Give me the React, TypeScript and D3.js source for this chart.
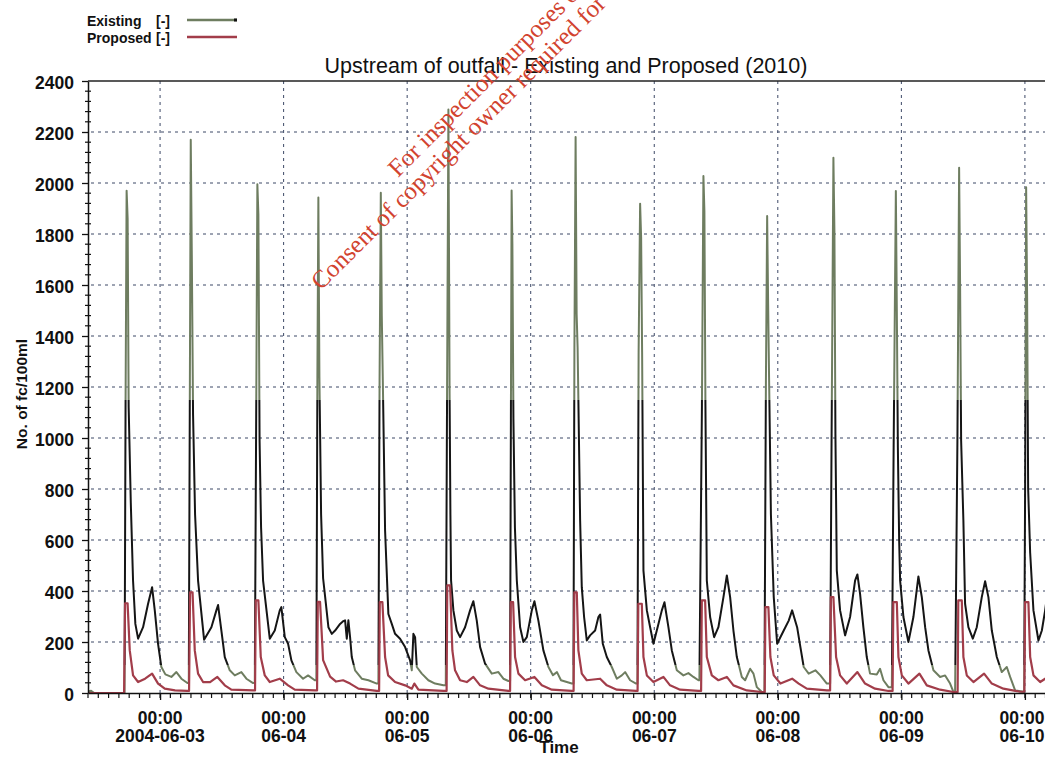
import React, { useEffect, useRef } from 'react';
import * as d3 from 'd3';

// [hours after 2004-06-03 00:00, no. of fc/100ml]
const existing: [number, number][] = [
  [-14.0, 6], [-13.4, 9], [-12.8, 0], [-6.9, 0], [-6.7, 1150], [-6.5, 1970], [-6.3, 1860], [-6.1, 1120], [-5.69, 748], [-5.25, 441], [-4.8, 271], [-4.27, 213], [-3.3, 258], [-2.33, 350], [-1.55, 415], [-1.03, 324], [-0.39, 193], [0.25, 102], [1.03, 73], [2.2, 63], [3.17, 82], [4.14, 56], [5.3, 39],
  [5.58, 40], [5.77, 1100], [5.96, 2170], [6.16, 1734], [6.41, 1090], [6.8, 700], [7.38, 441], [8.55, 209], [9.97, 258], [10.94, 324], [11.27, 345], [11.91, 245], [12.57, 141], [13.54, 89], [14.51, 69], [15.79, 82], [16.77, 56], [18.07, 39],
  [18.4, 40], [18.65, 1000], [18.9, 1995], [19.1, 1877], [19.33, 990], [19.62, 650], [20.01, 441], [21.31, 213], [22.28, 245], [23.25, 324], [23.56, 337], [24.23, 219], [24.87, 193], [25.51, 128], [26.48, 82], [27.78, 56], [28.75, 69], [30.05, 50],
  [30.36, 50], [30.56, 1240], [30.75, 1943], [30.95, 1240], [31.28, 700], [31.67, 450], [32.05, 380], [32.7, 258], [33.36, 232], [34.0, 245], [34.97, 271], [35.61, 282], [35.94, 285], [36.27, 213], [36.58, 285], [36.91, 219], [37.24, 141], [37.88, 89], [39.18, 56], [40.47, 50], [42.1, 37],
  [42.41, 37], [42.64, 1225], [42.88, 1962], [43.07, 1479], [43.27, 1225], [43.71, 637], [44.35, 310], [45.01, 271], [45.65, 232], [46.62, 213], [47.6, 180], [48.57, 128], [48.9, 89], [49.21, 232], [49.54, 219], [49.87, 102], [50.84, 76], [52.12, 50], [53.42, 37], [55.04, 30],
  [55.5, 30], [55.75, 1174], [56.01, 2288], [56.24, 1174], [56.4, 700], [56.53, 441], [56.98, 324], [57.64, 245], [58.28, 219], [59.25, 258], [60.22, 324], [60.86, 360], [61.52, 284], [62.17, 180], [63.14, 115], [64.44, 76], [65.72, 82], [66.69, 56], [67.67, 47],
  [67.99, 47], [68.15, 1075], [68.29, 1971], [68.44, 1761], [68.64, 1075], [68.93, 650], [69.3, 441], [69.94, 258], [70.58, 200], [71.24, 219], [72.21, 324], [72.72, 360], [73.49, 284], [74.46, 167], [75.44, 102], [76.32, 70], [77.1, 82], [77.88, 50], [79.98, 37],
  [80.3, 37], [80.49, 1355], [80.72, 2180], [80.92, 1486], [81.11, 1355], [81.6, 676], [81.92, 415], [82.37, 298], [82.89, 206], [83.53, 226], [84.51, 245], [85.15, 298], [85.48, 308], [86.0, 193], [86.78, 141], [87.75, 102], [88.72, 56], [89.69, 69], [90.34, 82], [91.31, 50], [92.47, 37],
  [92.73, 37], [92.96, 1336], [93.25, 1919], [93.45, 1786], [93.64, 1336], [93.9, 480], [94.56, 324], [95.2, 258], [95.84, 193], [96.81, 271], [97.47, 324], [97.98, 356], [98.75, 258], [99.41, 167], [100.38, 89], [101.66, 69], [102.63, 78], [103.61, 63], [104.58, 50],
  [104.77, 50], [105.26, 1127], [105.55, 2027], [105.74, 1890], [105.94, 1127], [106.21, 441], [106.85, 298], [107.63, 219], [108.46, 258], [109.44, 376], [110.1, 461], [110.74, 376], [111.38, 245], [112.04, 141], [113.01, 63], [113.65, 50], [114.62, 95], [115.27, 76], [115.93, 23], [116.9, 4],
  [117.4, 4], [117.69, 1225], [117.93, 1871], [118.12, 1525], [118.31, 1225], [118.66, 700], [119.21, 376], [119.87, 193], [120.18, 206], [121.15, 245], [122.12, 284], [122.78, 324], [123.75, 258], [124.39, 180], [125.03, 102], [126.0, 76], [127.3, 89], [128.27, 69], [129.52, 37],
  [130.16, 37], [130.45, 1017], [130.8, 2099], [131.0, 1805], [131.19, 1017], [131.46, 480], [132.1, 324], [133.07, 226], [134.04, 298], [135.01, 441], [135.46, 465], [135.98, 389], [136.62, 258], [137.28, 141], [137.92, 76], [139.22, 73], [139.86, 95], [140.52, 50], [141.49, 23],
  [142.15, 23], [142.5, 964], [142.93, 1969], [143.12, 1500], [143.32, 964], [143.57, 600], [143.76, 441], [144.4, 298], [145.37, 200], [146.34, 298], [147.31, 457], [147.97, 376], [148.62, 258], [149.26, 167], [150.23, 89], [151.53, 63], [152.5, 69], [153.47, 37], [154.11, 4],
  [154.44, 4], [154.89, 990], [155.22, 2060], [155.41, 1600], [155.61, 990], [156.05, 676], [156.38, 350], [157.02, 258], [157.88, 213], [158.65, 258], [159.62, 376], [160.27, 438], [160.91, 376], [161.57, 245], [162.54, 141], [163.51, 82], [164.48, 102], [165.13, 63], [166.1, 10], [167.71, 5],
  [167.85, 5], [168.04, 801], [168.24, 1983], [168.43, 1551], [168.63, 801], [169.02, 550], [169.66, 324], [170.63, 206], [171.29, 245], [171.93, 324], [172.3, 380],
];

const proposed: [number, number][] = [
  [-14.0, 0], [-6.99, 0], [-6.8, 352], [-6.31, 352], [-5.89, 167], [-5.25, 69], [-4.27, 43], [-2.91, 56], [-1.55, 76], [-0.39, 37], [0.91, 17], [2.91, 10], [5.25, 8],
  [5.63, 8], [5.83, 395], [6.31, 395], [6.74, 167], [7.38, 76], [8.35, 43], [9.71, 43], [11.13, 63], [12.57, 30], [13.85, 13], [18.07, 10],
  [18.45, 10], [18.59, 363], [19.1, 363], [19.56, 141], [20.34, 69], [21.31, 43], [23.25, 56], [24.87, 30], [26.17, 13], [30.11, 10],
  [30.5, 10], [30.64, 357], [31.08, 357], [31.67, 129], [33.03, 64], [34.19, 45], [35.55, 50], [36.91, 37], [38.53, 17], [42.1, 8],
  [42.55, 8], [42.68, 356], [43.19, 356], [43.71, 141], [44.3, 69], [45.65, 43], [47.6, 30], [48.9, 17], [49.4, 37], [50.18, 13], [55.04, 8],
  [55.66, 8], [55.79, 422], [56.34, 422], [56.78, 167], [57.3, 89], [58.28, 50], [59.58, 43], [60.86, 63], [62.17, 30], [63.78, 17], [67.67, 8],
  [67.99, 8], [68.13, 356], [68.58, 356], [68.96, 141], [69.61, 76], [70.91, 50], [72.72, 63], [74.16, 30], [76.1, 13], [79.98, 8],
  [80.33, 8], [80.47, 395], [80.95, 395], [81.26, 167], [81.92, 76], [82.89, 50], [85.48, 56], [86.78, 30], [88.72, 13], [92.47, 8],
  [92.76, 8], [92.9, 350], [93.58, 350], [93.9, 141], [94.56, 69], [95.84, 43], [97.78, 63], [99.07, 30], [101.02, 13], [104.58, 8],
  [105.1, 8], [105.24, 363], [105.88, 363], [106.21, 141], [107.18, 69], [108.46, 50], [110.1, 63], [111.38, 30], [113.98, 10], [116.9, 4],
  [117.46, 4], [117.59, 337], [118.17, 337], [118.56, 141], [119.21, 69], [120.51, 37], [122.78, 56], [124.06, 37], [125.63, 17], [129.52, 10],
  [130.16, 10], [130.3, 376], [130.8, 376], [131.32, 141], [132.1, 69], [133.4, 37], [135.46, 82], [136.95, 37], [138.89, 17], [141.49, 8],
  [142.3, 8], [142.44, 356], [143.12, 356], [143.43, 141], [144.09, 69], [145.37, 37], [147.51, 76], [148.94, 30], [151.53, 13], [154.11, 4],
  [154.93, 4], [155.06, 363], [155.74, 363], [156.05, 141], [156.71, 69], [158.0, 43], [160.07, 76], [161.57, 37], [163.82, 17], [167.06, 5],
  [167.9, 5], [168.04, 356], [168.68, 356], [169.02, 141], [169.66, 69], [170.96, 43], [171.93, 56], [172.3, 60],
];

const yTicks = [0, 200, 400, 600, 800, 1000, 1200, 1400, 1600, 1800, 2000, 2200, 2400];
const dayHours = [0, 24, 48, 72, 96, 120, 144, 168];
const dayLabels = ['2004-06-03', '06-04', '06-05', '06-06', '06-07', '06-08', '06-09', '06-10'];
const legendNames = ['Existing', 'Proposed'];
const stampLines = ['For inspection purposes only.', 'Consent of copyright owner required for any other use.'];

const W = 1045;
const H = 757;
const green = '#6e7d60';
const red = '#a23d4a';
const narrow = "'Liberation Sans Narrow', 'Arial Narrow', sans-serif";
const sans = "'Liberation Sans', Arial, sans-serif";

export default function App() {
  const ref = useRef<SVGSVGElement>(null);

  useEffect(() => {
    const svg = d3.select(ref.current);
    svg.selectAll('*').remove();

    const left = 88, right = 1045.5, top = 81, bottom = 693;
    const t0 = new Date(2004, 5, 3, 0, 0).getTime();
    const toDate = (h: number) => new Date(t0 + h * 3600e3);

    const x = d3.scaleTime().domain([toDate(-14), toDate(172)]).range([left, right]);
    const y = d3.scaleLinear().domain([0, 2400]).range([bottom, top]);

    const defs = svg.append('defs');
    defs.append('clipPath').attr('id', 'plot')
      .append('rect').attr('x', left).attr('y', top - 2).attr('width', right - left).attr('height', bottom - top + 2);

    // Existing line switches green / black with value
    const grad = defs.append('linearGradient').attr('id', 'exgrad')
      .attr('gradientUnits', 'userSpaceOnUse')
      .attr('x1', 0).attr('x2', 0).attr('y1', y(0)).attr('y2', y(2400));
    const lo = 110 / 2400, hi = 1150 / 2400;
    [[0, green], [lo, green], [lo, '#151515'], [hi, '#151515'], [hi, green], [1, green]].forEach(([o, c]) => {
      grad.append('stop').attr('offset', o as number).attr('stop-color', c as string);
    });

    // grid
    const grid = svg.append('g').attr('stroke', '#3c4866').attr('stroke-dasharray', '3,4').attr('stroke-width', 1);
    yTicks.filter(v => v > 0 && v < 2400).forEach(v => {
      grid.append('line').attr('x1', left + 3).attr('x2', right).attr('y1', y(v)).attr('y2', y(v));
    });
    dayHours.forEach(h => {
      grid.append('line').attr('x1', x(toDate(h))).attr('x2', x(toDate(h))).attr('y1', top).attr('y2', bottom);
    });

    // lines
    const line = d3.line<[number, number]>()
      .x(d => x(toDate(d[0])))
      .y(d => y(d[1]));

    const plot = svg.append('g').attr('clip-path', 'url(#plot)');
    plot.append('path').datum(existing)
      .attr('d', line).attr('fill', 'none')
      .attr('stroke', 'url(#exgrad)').attr('stroke-width', 2).attr('stroke-linejoin', 'round');
    plot.append('path').datum(proposed)
      .attr('d', line).attr('fill', 'none')
      .attr('stroke', red).attr('stroke-width', 2.2).attr('stroke-linejoin', 'round');

    // axes
    const yAxis = d3.axisLeft(y).tickValues(yTicks).tickSize(6).tickSizeOuter(0).tickFormat(d => String(d));
    const gy = svg.append('g').attr('transform', `translate(${left},0)`).call(yAxis);
    gy.select('.domain').attr('stroke', '#111').attr('stroke-width', 1.5);
    gy.selectAll('.tick line').attr('stroke', '#111').attr('stroke-width', 1.3);
    gy.selectAll('.tick text')
      .attr('x', -14).attr('dy', '0.45em')
      .attr('font-family', narrow).attr('font-weight', 'bold').attr('font-size', 17.5).attr('fill', '#111');

    const yMinor = d3.range(0, 2401, 40).filter(v => v % 200 !== 0);
    svg.append('g').selectAll('line').data(yMinor).enter().append('line')
      .attr('x1', left - 3).attr('x2', left + 3)
      .attr('y1', d => y(d)).attr('y2', d => y(d))
      .attr('stroke', '#111').attr('stroke-width', 1.2);

    const xMinor = d3.timeHour.every(2)!.range(toDate(-14), toDate(172.5));
    svg.append('g').selectAll('line').data(xMinor).enter().append('line')
      .attr('x1', d => x(d)).attr('x2', d => x(d))
      .attr('y1', bottom).attr('y2', bottom + 5)
      .attr('stroke', '#111').attr('stroke-width', 1.2);

    const xAxis = d3.axisBottom(x).tickValues(dayHours.map(toDate)).tickSize(7).tickSizeOuter(0).tickFormat(() => '');
    const gx = svg.append('g').attr('transform', `translate(0,${bottom})`).call(xAxis);
    gx.select('.domain').attr('stroke', '#111').attr('stroke-width', 1.5);
    gx.selectAll('.tick line').attr('stroke', '#111').attr('stroke-width', 1.3);

    const xl = svg.append('g').attr('font-family', narrow).attr('font-weight', 'bold')
      .attr('font-size', 17.5).attr('fill', '#111').attr('text-anchor', 'middle');
    dayHours.forEach((h, i) => {
      // keep the last label inside the page, as in the original
      const cx = Math.min(x(toDate(h)), W - 23);
      const t = xl.append('text').attr('x', cx).attr('y', 723.5);
      t.append('tspan').attr('x', cx).text('00:00');
      t.append('tspan').attr('x', cx).attr('dy', 18.5).text(dayLabels[i]);
    });

    // frame top
    svg.append('line').attr('x1', left).attr('x2', right).attr('y1', top).attr('y2', top)
      .attr('stroke', '#222').attr('stroke-width', 1.3);

    // titles
    svg.append('text').attr('x', 566).attr('y', 72.5).attr('text-anchor', 'middle')
      .attr('font-family', sans).attr('font-size', 21.5).attr('fill', '#111')
      .text('Upstream of outfall - Existing and Proposed (2010)');
    svg.append('text').attr('x', 559).attr('y', 753).attr('text-anchor', 'middle')
      .attr('font-family', narrow).attr('font-weight', 'bold').attr('font-size', 17).attr('fill', '#111')
      .text('Time');
    svg.append('text').attr('transform', 'translate(27,394) rotate(-90)').attr('text-anchor', 'middle')
      .attr('font-family', sans).attr('font-weight', 'bold').attr('font-size', 15.5).attr('fill', '#111')
      .text('No. of fc/100ml');

    // legend
    const lg = svg.append('g').attr('font-family', sans).attr('font-weight', 'bold').attr('font-size', 14).attr('fill', '#111');
    legendNames.forEach((lab, i) => {
      const ly = 20 + i * 17;
      lg.append('text').attr('x', 87).attr('y', ly + 6).text(lab);
      lg.append('text').attr('x', 156).attr('y', ly + 6).text('[-]');
      lg.append('line').attr('x1', 187).attr('x2', 237).attr('y1', ly).attr('y2', ly)
        .attr('stroke', i === 0 ? green : red).attr('stroke-width', 2.5);
    });
    lg.append('rect').attr('x', 234).attr('y', 18.5).attr('width', 3).attr('height', 3).attr('fill', '#111');

    // red stamp over the page (runs off the top, as in the scan)
    const st = svg.append('g').attr('font-family', "'Liberation Serif', serif").attr('font-size', 25).attr('fill', '#d2432f');
    st.append('text').attr('transform', 'translate(398,178) rotate(-45)').text(stampLines[0]);
    st.append('text').attr('transform', 'translate(321,291) rotate(-45)').text(stampLines[1]);
  }, []);

  return <svg ref={ref} width={W} height={H} style={{ position: 'absolute', left: 0, top: 0, background: '#fff' }} />;
}
